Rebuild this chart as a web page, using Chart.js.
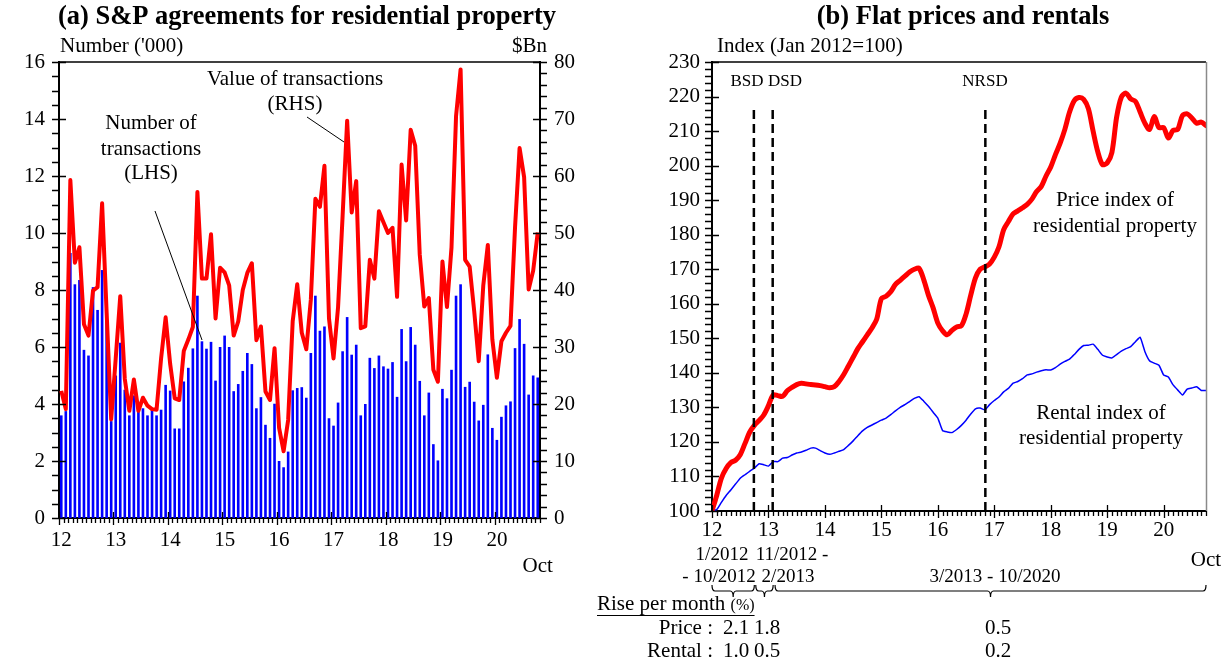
<!DOCTYPE html>
<html>
<head>
<meta charset="utf-8">
<script src="https://cdn.jsdelivr.net/npm/chart.js@4.4.1/dist/chart.umd.min.js"></script>
<style>
  html, body { margin: 0; padding: 0; background: #fff; }
  #wrap { position: relative; width: 1232px; height: 665px; overflow: hidden; background: #fff; }
  canvas { position: absolute; left: 0; top: 0; }
</style>
</head>
<body>
<div id="wrap">
  <canvas id="chartA" width="1232" height="665"></canvas>
  <canvas id="chartB" width="1232" height="665"></canvas>
</div>
<script>
// ---------- data ----------
const yearTickLabels = ['12', '13', '14', '15', '16', '17', '18', '19', '20'];
const monthNames = ['Jan', 'Feb', 'Mar', 'Apr', 'May', 'Jun', 'Jul', 'Aug', 'Sep', 'Oct', 'Nov', 'Dec'];
const lastMonthLabel = 'Oct';

// Number of S&P agreements for residential property ('000), Jan 2012 - Oct 2020
const numberOfTransactions = [
  3.6, 3.75, 9.3, 8.2, 8.35, 5.9, 5.7, 8.1, 7.3, 8.7, 7.0, 3.4,
  5.0, 6.15, 4.5, 3.6, 4.3, 3.75, 3.85, 3.6, 3.85, 3.6, 3.8, 4.67,
  4.47, 3.14, 3.14, 4.79, 5.27, 5.95, 7.8, 6.2, 5.94, 6.18, 4.82, 6.0,
  6.4, 6.0, 4.45, 4.7, 5.16, 5.79, 5.4, 3.85, 4.24, 3.27, 2.81, 4.01,
  2.0, 1.78, 2.33, 4.48, 4.56, 4.59, 4.22, 5.79, 7.8, 6.57, 6.72, 3.5,
  3.24, 4.05, 5.85, 7.05, 5.73, 6.08, 3.6, 4.0, 5.62, 5.26, 5.7, 5.32,
  5.24, 5.47, 4.25, 6.63, 5.5, 6.7, 6.08, 4.81, 3.6, 4.4, 2.59, 2.02,
  4.53, 4.2, 5.2, 7.8, 8.2, 4.6, 4.78, 4.08, 3.42, 3.97, 5.74, 3.16,
  2.74, 3.55, 3.95, 4.09, 5.96, 6.98, 6.11, 4.33, 5.0, 4.93
];

// Value of S&P agreements ($Bn)
const valueOfTransactions = [
  22.3, 19.1, 59.3, 44.8, 47.5, 34, 32, 39.9, 40.5, 55.2, 36, 17.3,
  28, 38.9, 24.4, 18.8, 24.3, 18.8, 21.1, 19.7, 19.1, 19, 28, 35.2,
  27, 21, 20.7, 29.3, 31.3, 33.5, 57.2, 42, 42, 49.8, 35, 43.9,
  43.1, 40.8, 32, 34.5, 40, 43, 44.7, 31.2, 33.6, 22.2, 20.7, 29.8,
  15.8, 11.7, 17.2, 34.5, 41, 32.5, 29.6, 38.3, 56, 54.6, 61.8, 35,
  28, 37, 53, 69.7, 53.6, 59.1, 33.3, 33.6, 45.3, 42, 53.8, 51.9,
  50, 50.9, 38.8, 62, 52.2, 68.1, 65.3, 46.2, 37.1, 38.6, 26, 23.9,
  45, 37, 47.5, 70.5, 78.7, 45.3, 44.1, 36.3, 27.5, 40.8, 47.9, 31.3,
  24.6, 31, 32.5, 33.7, 51, 64.9, 59.8, 40.1, 43.4, 50.1
];

// Price index of residential property (Jan 2012 = 100)
const priceIndex = [
  100, 104.5, 109.5, 112.3, 114, 114.7, 116.3, 119.5, 122.8, 124.8, 126.2, 127.8,
  130.5, 133.6, 133.4, 133.2, 134.8, 135.8, 136.6, 137, 136.8, 136.6, 136.5, 136.3,
  136, 135.7, 136, 137.5, 139.5, 142, 144.5, 147, 149, 151, 153, 155.5,
  161.5, 162.2, 163.5, 165.6, 166.8, 168, 169.2, 170, 170.3, 167, 162.5, 158.8,
  154.4, 152.2, 151, 152.3, 153.3, 153.6, 157, 162.5, 167.5, 170, 170.7, 171.5,
  173.5, 176.5, 181.5, 183.8, 186, 186.9, 187.8, 188.8, 190.3, 192.5, 194, 197,
  199.6, 203.2, 206.5, 210.5, 215.5, 218.8, 219.7, 219.2, 216.5, 210, 204, 200.3,
  200.8, 203.8, 214, 219.8, 221, 219.3, 218.6, 215.5, 212.3, 210.5, 214.2, 211,
  211, 208, 210.2, 210.5, 214.5, 215, 213.8, 212.3, 212.6, 211.6
];

// Rental index of residential property (Jan 2012 = 100)
const rentalIndex = [
  100, 100.4, 102.5, 104.5, 106.1, 107.8, 109.5, 110.5, 111.5, 112.4, 113.7, 113.4,
  113, 114.3, 114.3, 115.3, 115.5, 116.2, 116.8, 117.1, 117.6, 118.2, 118.2, 117.5,
  116.8, 116.4, 116.8, 117.3, 117.8, 119, 120.3, 121.8, 123.2, 124.2, 124.9, 125.6,
  126.3, 126.9, 127.9, 129, 130, 130.8, 131.7, 132.6, 133.1, 131.8, 130.3, 128.6,
  126.9, 123.3, 122.9, 122.7, 123.6, 124.8, 126.3, 128.1, 129.6, 129.8, 129.3, 130.8,
  132, 133, 134.5, 135.5, 137, 137.5, 138.3, 139.4, 139.7, 140.2, 140.6, 140.9,
  140.8, 141.5, 142.5, 143.3, 144, 145.3, 146.8, 147.9, 148, 148.3, 146.8, 145.1,
  144.6, 144.3, 145.3, 146.3, 147, 147.6, 149, 150.3, 146.2, 143.5, 142.8, 142.2,
  139.4, 138.8, 136.5, 135, 133.6, 135.3, 135.6, 136, 134.9, 134.9
];

// Stamp duty measures (month index from Jan 2012)
const policyLabels = ['BSD', 'DSD', 'NRSD'];
const policyMonths = [8.9, 12.9, 58.1];
const policyLineTop = 217;

// Periods for the average monthly rise
const periodTopLines = ['1/2012', '11/2012 -', ''];
const periodBottomLines = ['- 10/2012', '2/2013', '3/2013 - 10/2020'];
const periodStart = [0, 9.3, 13.4];
const periodEnd = [9, 13, 105];
const priceRise = ['2.1', '1.8', '0.5'];
const rentalRise = ['1.0', '0.5', '0.2'];

// ---------- helpers ----------
const FONT = "'Liberation Serif', 'Times New Roman', serif";
const monthLabels = [];
for (let k = 0; k < numberOfTransactions.length; k++) {
  monthLabels.push(monthNames[k % 12] + ' ' + yearTickLabels[Math.floor(k / 12)]);
}
const lastIdx = numberOfTransactions.length - 1;

function txt(ctx, s, x, y, size, align, bold) {
  ctx.save();
  ctx.font = (bold ? 'bold ' : '') + size + 'px ' + FONT;
  ctx.fillStyle = '#000';
  ctx.textAlign = align || 'center';
  ctx.textBaseline = 'middle';
  ctx.fillText(s, x, y);
  ctx.restore();
}
function seg(ctx, x1, y1, x2, y2, w, col) {
  ctx.save();
  ctx.strokeStyle = col || '#000';
  ctx.lineWidth = w || 1;
  ctx.beginPath();
  ctx.moveTo(x1, y1);
  ctx.lineTo(x2, y2);
  ctx.stroke();
  ctx.restore();
}
function brace(ctx, x1, x2, y) {
  const cx = (x1 + x2) / 2;
  ctx.save();
  ctx.strokeStyle = '#000';
  ctx.lineWidth = 1.2;
  ctx.beginPath();
  ctx.moveTo(x1, y - 6);
  ctx.quadraticCurveTo(x1, y, x1 + 3, y);
  ctx.lineTo(cx - 3, y);
  ctx.quadraticCurveTo(cx, y, cx, y + 6);
  ctx.moveTo(cx, y + 6);
  ctx.quadraticCurveTo(cx, y, cx + 3, y);
  ctx.lineTo(x2 - 3, y);
  ctx.quadraticCurveTo(x2, y, x2, y - 6);
  ctx.stroke();
  ctx.restore();
}

// ---------- (a) S&P agreements ----------
const decorA = {
  id: 'decorA',
  afterDraw(chart) {
    const { ctx, chartArea: a } = chart;
    const x = chart.scales.x, y = chart.scales.y, y1 = chart.scales.y1;
    ctx.save();
    ctx.strokeStyle = '#000';
    ctx.lineWidth = 1.3;
    ctx.beginPath();
    for (let k = 0; k <= 32; k++) {
      const py = Math.round(y.getPixelForValue(k * 0.5)) + 0.5;
      ctx.moveTo(a.left - 7, py);
      ctx.lineTo(k % 4 === 0 ? a.left + 7 : a.left, py);
    }
    for (let k = 0; k <= 40; k++) {
      const py = Math.round(y1.getPixelForValue(k * 2)) + 0.5;
      ctx.moveTo(k % 5 === 0 ? a.right - 7 : a.right, py);
      ctx.lineTo(a.right + 7, py);
    }
    const step = x.getPixelForValue(1) - x.getPixelForValue(0);
    const n = numberOfTransactions.length;
    for (let i = 0; i <= n; i++) {
      const px = Math.round(x.getPixelForValue(0) - step / 2 + i * step) + 0.5;
      const major = i % 12 === 0;
      ctx.moveTo(px, major ? a.bottom - 6 : a.bottom);
      ctx.lineTo(px, a.bottom + (major ? 7 : 5));
    }
    ctx.stroke();
    ctx.restore();
    seg(ctx, a.left, a.top, a.right, a.top, 1.5);

    txt(ctx, '(a) S&P agreements for residential property', 307, 17, 26.5, 'center', true);
    txt(ctx, "Number ('000)", 60, 46, 21, 'left');
    txt(ctx, '$Bn', 547, 46, 21, 'right');
    txt(ctx, 'Value of transactions', 295, 79, 21);
    txt(ctx, '(RHS)', 295, 104, 21);
    txt(ctx, 'Number of', 151, 123, 21);
    txt(ctx, 'transactions', 151, 149, 21);
    txt(ctx, '(LHS)', 151, 173, 21);
    seg(ctx, 307, 117, 344, 142, 1);
    seg(ctx, 155, 211, 202, 340, 1);
  }
};

new Chart(document.getElementById('chartA'), {
  data: {
    labels: monthLabels,
    datasets: [
      {
        type: 'line', label: 'Value of transactions (RHS)', data: valueOfTransactions, yAxisID: 'y1',
        borderColor: '#ff0000', borderWidth: 4, pointRadius: 0, tension: 0,
        borderJoinStyle: 'round', order: 0
      },
      {
        type: 'bar', label: 'Number of transactions (LHS)', data: numberOfTransactions, yAxisID: 'y',
        backgroundColor: '#0000ff', barPercentage: 0.58, categoryPercentage: 1, order: 1
      }
    ]
  },
  options: {
    responsive: false, animation: false, devicePixelRatio: 1,
    layout: { padding: { top: 62, left: 0, right: 0, bottom: 0 } },
    plugins: { legend: { display: false }, tooltip: { enabled: false }, title: { display: false } },
    scales: {
      x: {
        type: 'category', offset: true,
        grid: { display: false, drawTicks: false },
        border: { display: true, color: '#000', width: 2 },
        ticks: {
          autoSkip: false, maxRotation: 0, minRotation: 0, padding: 9, color: '#000',
          font: { family: FONT, size: 21, lineHeight: 1.25 },
          callback: (v, i) => i === lastIdx ? ['', lastMonthLabel] : (i % 12 === 0 ? yearTickLabels[i / 12] : '')
        },
        afterFit: s => { s.height = 665 - 518; }
      },
      y: {
        position: 'left', min: 0, max: 16,
        grid: { display: false, drawTicks: false },
        border: { display: true, color: '#000', width: 2 },
        ticks: { stepSize: 2, padding: 14, color: '#000', font: { family: FONT, size: 21 } },
        afterFit: s => { s.width = 59; }
      },
      y1: {
        position: 'right', min: 0, max: 80,
        grid: { display: false, drawTicks: false },
        border: { display: true, color: '#000', width: 2 },
        ticks: { stepSize: 10, padding: 14, color: '#000', font: { family: FONT, size: 21 } },
        afterFit: s => { s.width = 1232 - 540; }
      }
    }
  },
  plugins: [decorA]
});

// ---------- (b) Flat prices and rentals ----------
const tickMonths = [0, 12, 24, 36, 48, 60, 72, 84, 96, priceIndex.length - 1];

const decorB = {
  id: 'decorB',
  afterDraw(chart) {
    const { ctx, chartArea: a } = chart;
    const x = chart.scales.x, y = chart.scales.y;
    ctx.save();
    ctx.strokeStyle = '#000';
    ctx.lineWidth = 1.3;
    ctx.beginPath();
    for (let v = 100; v <= 230; v += 2) {
      const py = Math.round(y.getPixelForValue(v)) + 0.5;
      ctx.moveTo(a.left - 7, py);
      ctx.lineTo(v % 10 === 0 ? a.left + 7 : a.left, py);
    }
    for (let i = 0; i < priceIndex.length; i++) {
      const px = Math.round(x.getPixelForValue(i)) + 0.5;
      const major = i % 12 === 0;
      ctx.moveTo(px, major ? a.bottom - 6 : a.bottom);
      ctx.lineTo(px, a.bottom + (major ? 7 : 5));
    }
    ctx.stroke();
    ctx.restore();
    seg(ctx, a.left, a.top, a.right, a.top, 1.5);
    seg(ctx, a.right + 0.5, a.top, a.right + 0.5, a.bottom, 1.5, '#8a8a8a');

    txt(ctx, '(b) Flat prices and rentals', 963, 17, 26.5, 'center', true);
    txt(ctx, 'Index (Jan 2012=100)', 717, 46, 21, 'left');

    const policyLabelX = [747, 785, 985];
    policyLabels.forEach((s, k) => txt(ctx, s, policyLabelX[k], 82, 17));

    txt(ctx, 'Price index of', 1115, 200, 21);
    txt(ctx, 'residential property', 1115, 226, 21);
    txt(ctx, 'Rental index of', 1101, 413, 21);
    txt(ctx, 'residential property', 1101, 438, 21);

    // periods and braces
    const topX = [722, 792, 0];
    const botX = [719, 788, 995];
    for (let k = 0; k < 3; k++) {
      if (periodTopLines[k]) txt(ctx, periodTopLines[k], topX[k], 555, 19);
      txt(ctx, periodBottomLines[k], botX[k], 577, 19);
      const x1 = x.getPixelForValue(periodStart[k]);
      const x2 = x.getPixelForValue(periodEnd[k]);
      brace(ctx, x1, x2, 591);
    }
    // rise per month table
    ctx.save();
    ctx.font = '21px ' + FONT;
    const w1 = ctx.measureText('Rise per month ').width;
    ctx.font = '16px ' + FONT;
    const w2 = ctx.measureText('(%)').width;
    ctx.restore();
    txt(ctx, 'Rise per month ', 597, 604, 21, 'left');
    txt(ctx, '(%)', 597 + w1, 606, 16, 'left');
    seg(ctx, 597, 615.5, 597 + w1 + w2, 615.5, 1.2);
    txt(ctx, 'Price :', 713, 628, 21, 'right');
    txt(ctx, 'Rental :', 713, 651, 21, 'right');
    const valX = [736, 767, 998];
    for (let k = 0; k < 3; k++) {
      txt(ctx, priceRise[k], valX[k], 628, 21);
      txt(ctx, rentalRise[k], valX[k], 651, 21);
    }
  }
};

const policyDatasets = policyMonths.map((m, k) => ({
  type: 'line', label: policyLabels[k],
  data: [{ x: m, y: 100 }, { x: m, y: policyLineTop }],
  borderColor: '#000', borderWidth: 2.5, borderDash: [9, 5], pointRadius: 0, order: 0
}));

new Chart(document.getElementById('chartB'), {
  type: 'line',
  data: {
    datasets: [
      ...policyDatasets,
      {
        label: 'Price index of residential property',
        data: priceIndex.map((v, i) => ({ x: i, y: v })),
        borderColor: '#ff0000', borderWidth: 5, pointRadius: 0, tension: 0.3,
        borderJoinStyle: 'round', borderCapStyle: 'round', order: 1
      },
      {
        label: 'Rental index of residential property',
        data: rentalIndex.map((v, i) => ({ x: i, y: v })),
        borderColor: '#0000ff', borderWidth: 1.5, pointRadius: 0, tension: 0.15, order: 2
      }
    ]
  },
  options: {
    responsive: false, animation: false, devicePixelRatio: 1,
    layout: { padding: { top: 62, left: 0, right: 26, bottom: 0 } },
    plugins: { legend: { display: false }, tooltip: { enabled: false }, title: { display: false } },
    scales: {
      x: {
        type: 'linear', min: 0, max: priceIndex.length - 1,
        grid: { display: false, drawTicks: false },
        border: { display: true, color: '#000', width: 2 },
        afterBuildTicks: s => { s.ticks = tickMonths.map(v => ({ value: v })); },
        ticks: {
          autoSkip: false, maxRotation: 0, minRotation: 0, padding: 4, color: '#000',
          font: { family: FONT, size: 21, lineHeight: 1.45 },
          callback: v => v === priceIndex.length - 1 ? ['', lastMonthLabel] : yearTickLabels[v / 12]
        },
        afterFit: s => { s.height = 665 - 511; }
      },
      y: {
        min: 100, max: 230,
        grid: { display: false, drawTicks: false },
        border: { display: true, color: '#000', width: 2 },
        ticks: { stepSize: 10, padding: 12, color: '#000', font: { family: FONT, size: 21 } },
        afterFit: s => { s.width = 712; }
      }
    }
  },
  plugins: [decorB]
});
</script>
</body>
</html>
